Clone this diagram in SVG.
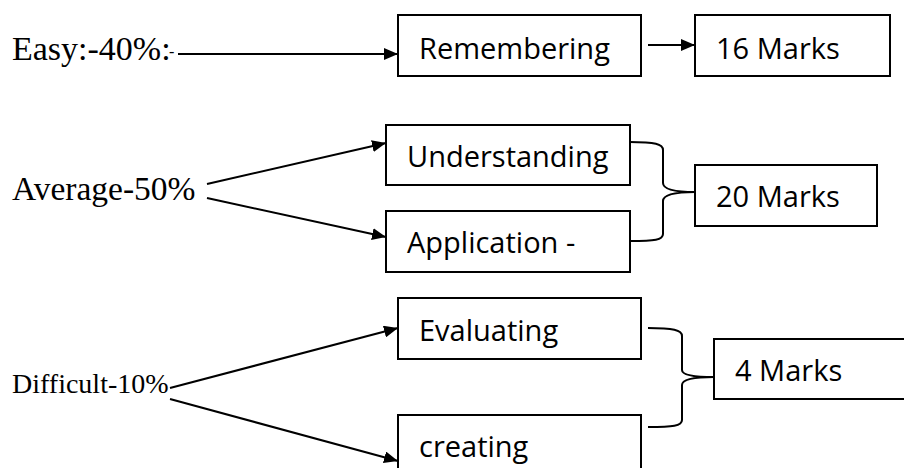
<svg xmlns="http://www.w3.org/2000/svg" width="904" height="468" viewBox="0 0 904 468">
<style>
.box{fill:#fff;stroke:#000;stroke-width:2}
.lbl{font-family:"Liberation Serif",serif;fill:#000}
.t{font-family:"Open Sans","Liberation Sans",sans-serif;font-size:29px;fill:#000}
.c{fill:none;stroke:#000;stroke-width:2}
</style>
<defs>
<marker id="ah" viewBox="0 0 14 12" refX="14" refY="6" markerWidth="14" markerHeight="12" markerUnits="userSpaceOnUse" orient="auto">
<path d="M0,0 L14,6 L0,12 z" fill="#000"/>
</marker>
</defs>
<rect width="904" height="468" fill="#fff"/>
<g id="easy"><text class="lbl" x="12" y="60" font-size="34">Easy:-40%:</text><text class="lbl" x="169" y="57" font-size="16">-</text></g>
<g id="average"><text class="lbl" x="12" y="200" font-size="33.5">Average-50%</text></g>
<g id="difficult"><text class="lbl" x="12" y="393" font-size="28">Difficult-10%</text></g>
<g id="remembering"><rect class="box" x="398" y="15" width="243" height="61"/><text class="t" x="419" y="59">Remembering</text></g>
<g id="marks16"><rect class="box" x="695" y="15" width="195" height="61"/><text class="t" x="716" y="59">16 Marks</text></g>
<g id="understanding"><rect class="box" x="386" y="125" width="244" height="60"/><text class="t" x="407" y="167">Understanding</text></g>
<g id="application"><rect class="box" x="386" y="211" width="244" height="61"/><text class="t" x="407" y="253">Application -</text></g>
<g id="marks20"><rect class="box" x="695" y="165" width="182" height="61"/><text class="t" x="716" y="207">20 Marks</text></g>
<g id="evaluating"><rect class="box" x="398" y="298" width="243" height="61"/><text class="t" x="419" y="341">Evaluating</text></g>
<g id="creating"><rect class="box" x="398" y="415" width="243" height="60"/><text class="t" x="419" y="457">creating</text></g>
<g id="marks4"><rect class="box" x="714" y="339" width="200" height="60"/><text class="t" x="735" y="381">4 Marks</text></g>
<g id="connectors">
<line class="c" x1="178" y1="54" x2="398" y2="54" marker-end="url(#ah)"/>
<line class="c" x1="648" y1="45" x2="695" y2="45" marker-end="url(#ah)"/>
<line class="c" x1="207" y1="184" x2="386" y2="143" marker-end="url(#ah)"/>
<line class="c" x1="207" y1="198" x2="386" y2="237" marker-end="url(#ah)"/>
<line class="c" x1="170" y1="388" x2="398" y2="328" marker-end="url(#ah)"/>
<line class="c" x1="170" y1="399" x2="398" y2="461" marker-end="url(#ah)"/>
<path class="c" d="M630,142 C655,142 663,144 663,150 L663,183 C663,189 675,192 695,192 C675,192 663,195 663,201 L663,234 C663,240 655,241 630,241"/>
<path class="c" d="M648,328 C673,328 682,330 682,336 L682,370 C682,375 694,377 714,377 C694,377 682,379 682,385 L682,420 C682,426 673,427 648,427"/>
</g>
</svg>
